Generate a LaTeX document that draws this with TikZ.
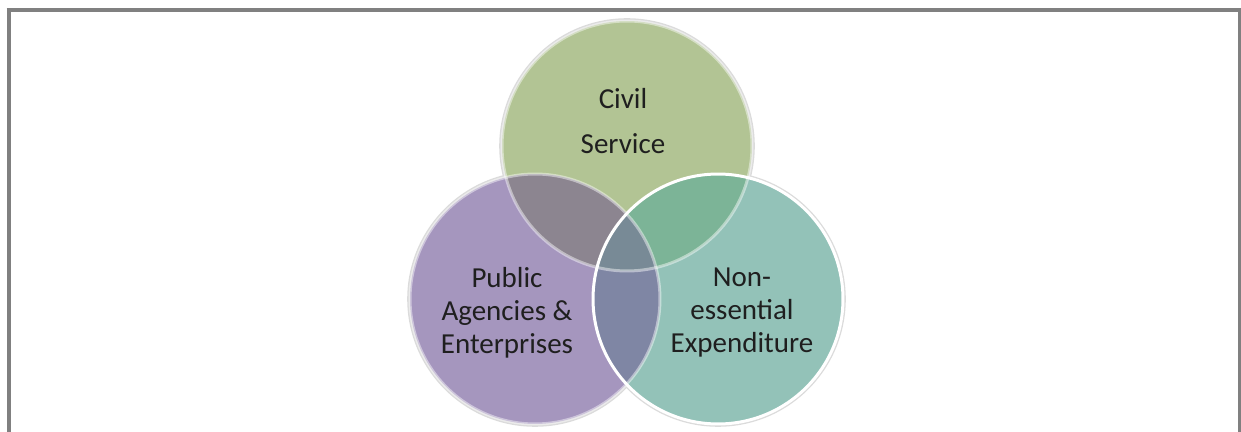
\documentclass[tikz,border=0pt]{standalone}
\usepackage{fontspec}
\setmainfont{Carlito}

\definecolor{civilgreen}{HTML}{B2C494}
\definecolor{agencypurple}{HTML}{A596BE}
\definecolor{spendteal}{HTML}{93C2B8}
\definecolor{greenpurple}{HTML}{8C8590}
\definecolor{greenteal}{HTML}{7CB497}
\definecolor{purpleteal}{HTML}{7F86A4}
\definecolor{allthree}{HTML}{788A96}
\definecolor{framegray}{HTML}{808080}

\tikzset{
  setlabel/.style={align=center,font=\fontsize{16.5}{18.8}\selectfont,text=black!88},
  setrim/.style={draw=white,line width=1.7pt},
  setshade/.style={draw=black!14,line width=3.2pt}
}

\begin{document}
\begin{tikzpicture}[x=0.02cm,y=-0.02cm]
  \useasboundingbox (0,0) rectangle (1241,432);

  % page frame, open at the bottom
  \draw[framegray,line width=2.8pt] (6.5,10) -- (1240.5,10);
  \draw[framegray,line width=2.2pt] (8.7,432) -- (8.7,8);
  \draw[framegray,line width=1.4pt] (1239.5,432) -- (1239.5,8);

  % centres of the three sets
  \coordinate (civil) at (627,146);
  \coordinate (agency) at (535,299);
  \coordinate (spend) at (718,299);
  \def\rad{2.5cm}

  % soft rim round each set
  \foreach \c in {civil,agency,spend}
    \draw[setshade] (\c) circle[radius=\rad];

  % plain set colours
  \fill[civilgreen] (civil) circle[radius=\rad];
  \fill[agencypurple] (agency) circle[radius=\rad];
  \fill[spendteal] (spend) circle[radius=\rad];

  % overlaps
  \begin{scope}
    \clip (civil) circle[radius=\rad];
    \fill[greenpurple] (agency) circle[radius=\rad];
    \fill[greenteal] (spend) circle[radius=\rad];
  \end{scope}
  \begin{scope}
    \clip (agency) circle[radius=\rad];
    \fill[purpleteal] (spend) circle[radius=\rad];
    \clip (civil) circle[radius=\rad];
    \fill[allthree] (spend) circle[radius=\rad];
  \end{scope}

  % rims, the last one on top
  \draw[setrim,draw opacity=0.45] (civil) circle[radius=\rad];
  \draw[setrim,draw opacity=0.45] (agency) circle[radius=\rad];
  \draw[setrim] (spend) circle[radius=\rad];

  % labels
  \node[setlabel] (civiltext) at (623,121) {Civil\\[6.7pt]Service};
  \node[setlabel] (agencytext) at (507,313) {Public\\Agencies \&\\Enterprises};
  \node[setlabel] (spendtext) at (742,313) {Non-\\essential\\Expenditure};
\end{tikzpicture}
\end{document}
